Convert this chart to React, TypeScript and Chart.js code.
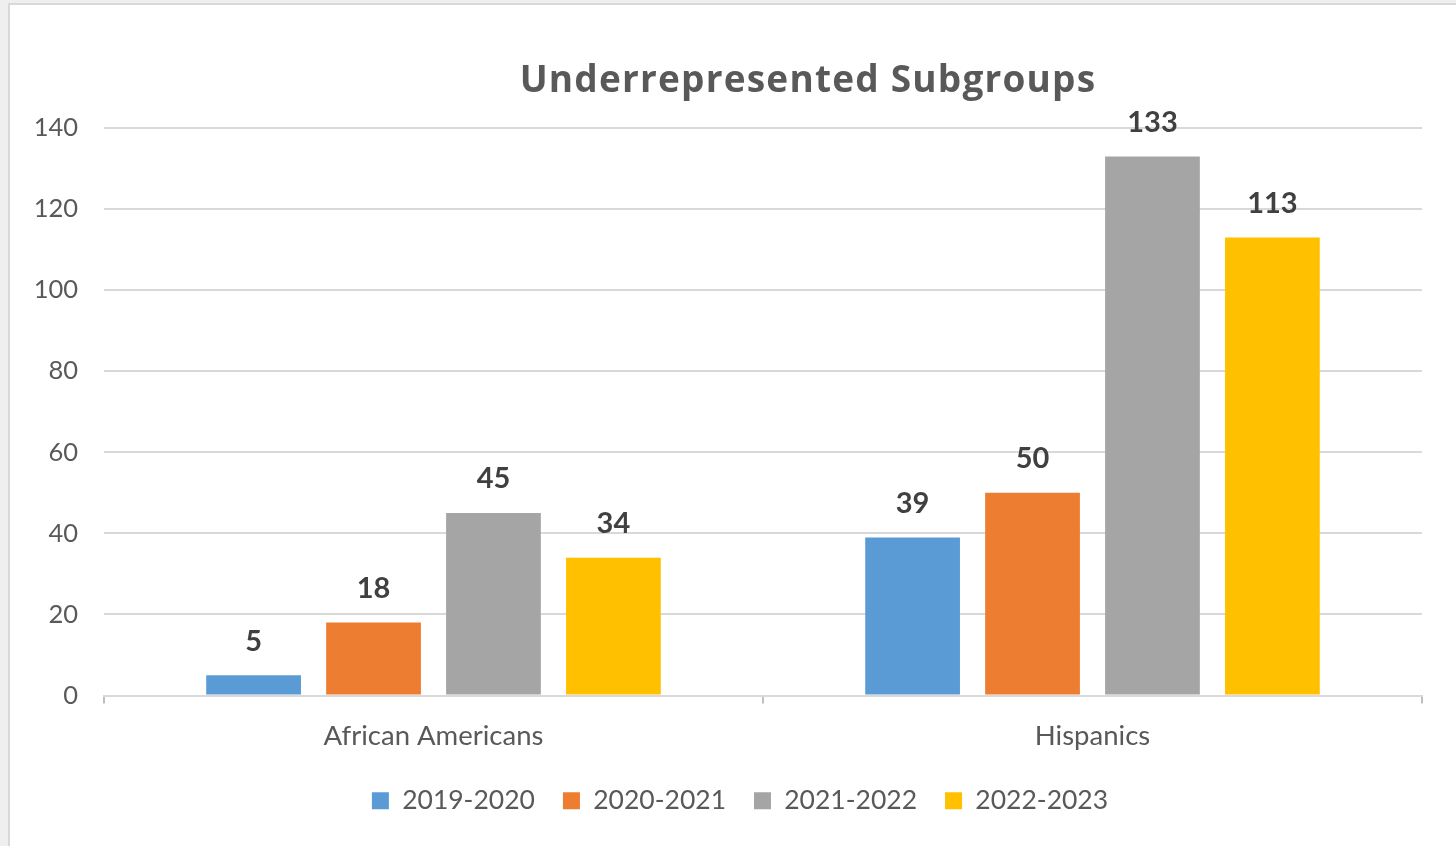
import React, { useEffect, useRef } from "react";
import { Chart, registerables } from "chart.js";

Chart.register(...registerables);

const categories = ["African Americans", "Hispanics"];
const seriesNames = ["2019-2020", "2020-2021", "2021-2022", "2022-2023"];
const values2019 = [5, 39];
const values2020 = [18, 50];
const values2021 = [45, 133];
const values2022 = [34, 113];
const seriesColors = ["#5B9BD5", "#ED7D31", "#A5A5A5", "#FFC000"];
const titleText = "Underrepresented Subgroups";
const yMax = 140;
const yStep = 20;

const FONT = "Lato, 'Open Sans', sans-serif";
const TITLE_FONT = "'Open Sans', Lato, sans-serif";

const titlePlugin = {
  id: "customTitle",
  afterDraw(chart: any) {
    const { ctx, chartArea } = chart;
    ctx.save();
    ctx.font = `bold 37px ${TITLE_FONT}`;
    try {
      (ctx as any).letterSpacing = "1.2px";
    } catch (e) {}
    ctx.fillStyle = "#595959";
    ctx.textAlign = "center";
    ctx.textBaseline = "middle";
    ctx.fillText(titleText, (chartArea.left + chartArea.right) / 2 + 45, 76);
    ctx.restore();
  },
};

const dataLabelPlugin = {
  id: "dataLabels",
  afterDatasetsDraw(chart: any) {
    const { ctx } = chart;
    ctx.save();
    ctx.font = `bold 29px ${FONT}`;
    ctx.fillStyle = "#404040";
    ctx.textAlign = "center";
    ctx.textBaseline = "middle";
    chart.data.datasets.forEach((ds: any, i: number) => {
      const meta = chart.getDatasetMeta(i);
      meta.data.forEach((bar: any, j: number) => {
        ctx.fillText(String(ds.data[j]), bar.x, bar.y - 34);
      });
    });
    ctx.restore();
  },
};

const legendShiftPlugin = {
  id: "legendShift",
  afterLayout(chart: any) {
    if (chart.legend) {
      chart.legend.left += 24;
      chart.legend.right += 24;
    }
  },
};

export default function App() {
  const ref = useRef<HTMLCanvasElement>(null);
  useEffect(() => {
    if (!ref.current) return;
    const allValues = [values2019, values2020, values2021, values2022];
    const chart = new Chart(ref.current, {
      type: "bar",
      data: {
        labels: categories,
        datasets: allValues.map((v, i) => ({
          label: seriesNames[i],
          data: v,
          backgroundColor: seriesColors[i],
          borderWidth: 0,
          categoryPercentage: 0.728,
          barPercentage: 0.79,
        })),
      },
      options: {
        animation: false,
        responsive: true,
        maintainAspectRatio: false,
        layout: { padding: { top: 123, right: 34, bottom: 22, left: 0 } },
        plugins: {
          title: { display: false },
          tooltip: { enabled: false },
          legend: {
            position: "bottom",
            labels: {
              boxWidth: 17,
              boxHeight: 17,
              padding: 28,
              color: "#595959",
              font: { family: FONT, size: 26.5 },
            },
          },
        },
        scales: {
          x: {
            offset: true,
            grid: {
              offset: true,
              drawOnChartArea: false,
              drawTicks: true,
              tickLength: 8,
              color: "#BFBFBF",
              lineWidth: 2,
            },
            border: { display: true, color: "#D9D9D9", width: 2 },
            ticks: {
              color: "#595959",
              padding: 16,
              font: { family: FONT, size: 27.5 },
            },
            afterFit(scale: any) {
              scale.height = 64;
            },
          },
          y: {
            min: 0,
            max: yMax,
            ticks: {
              stepSize: yStep,
              color: "#595959",
              padding: 26,
              font: { family: FONT, size: 25.5 },
            },
            grid: { color: "#D9D9D9", lineWidth: 2, drawTicks: false },
            border: { display: false },
            afterFit(scale: any) {
              scale.width = 94;
            },
          },
        },
      },
      plugins: [titlePlugin, dataLabelPlugin, legendShiftPlugin],
    });
    return () => chart.destroy();
  }, []);

  return (
    <div style={{ position: "fixed", inset: 0, background: "#EFEFEF" }}>
      <div
        style={{
          position: "absolute",
          left: 8,
          top: 3,
          right: 0,
          bottom: 0,
          background: "#FFFFFF",
          borderLeft: "2px solid #D9D9D9",
          borderTop: "2px solid #D9D9D9",
        }}
      >
        <div style={{ position: "relative", width: "100%", height: "100%" }}>
          <canvas ref={ref} />
        </div>
      </div>
    </div>
  );
}
